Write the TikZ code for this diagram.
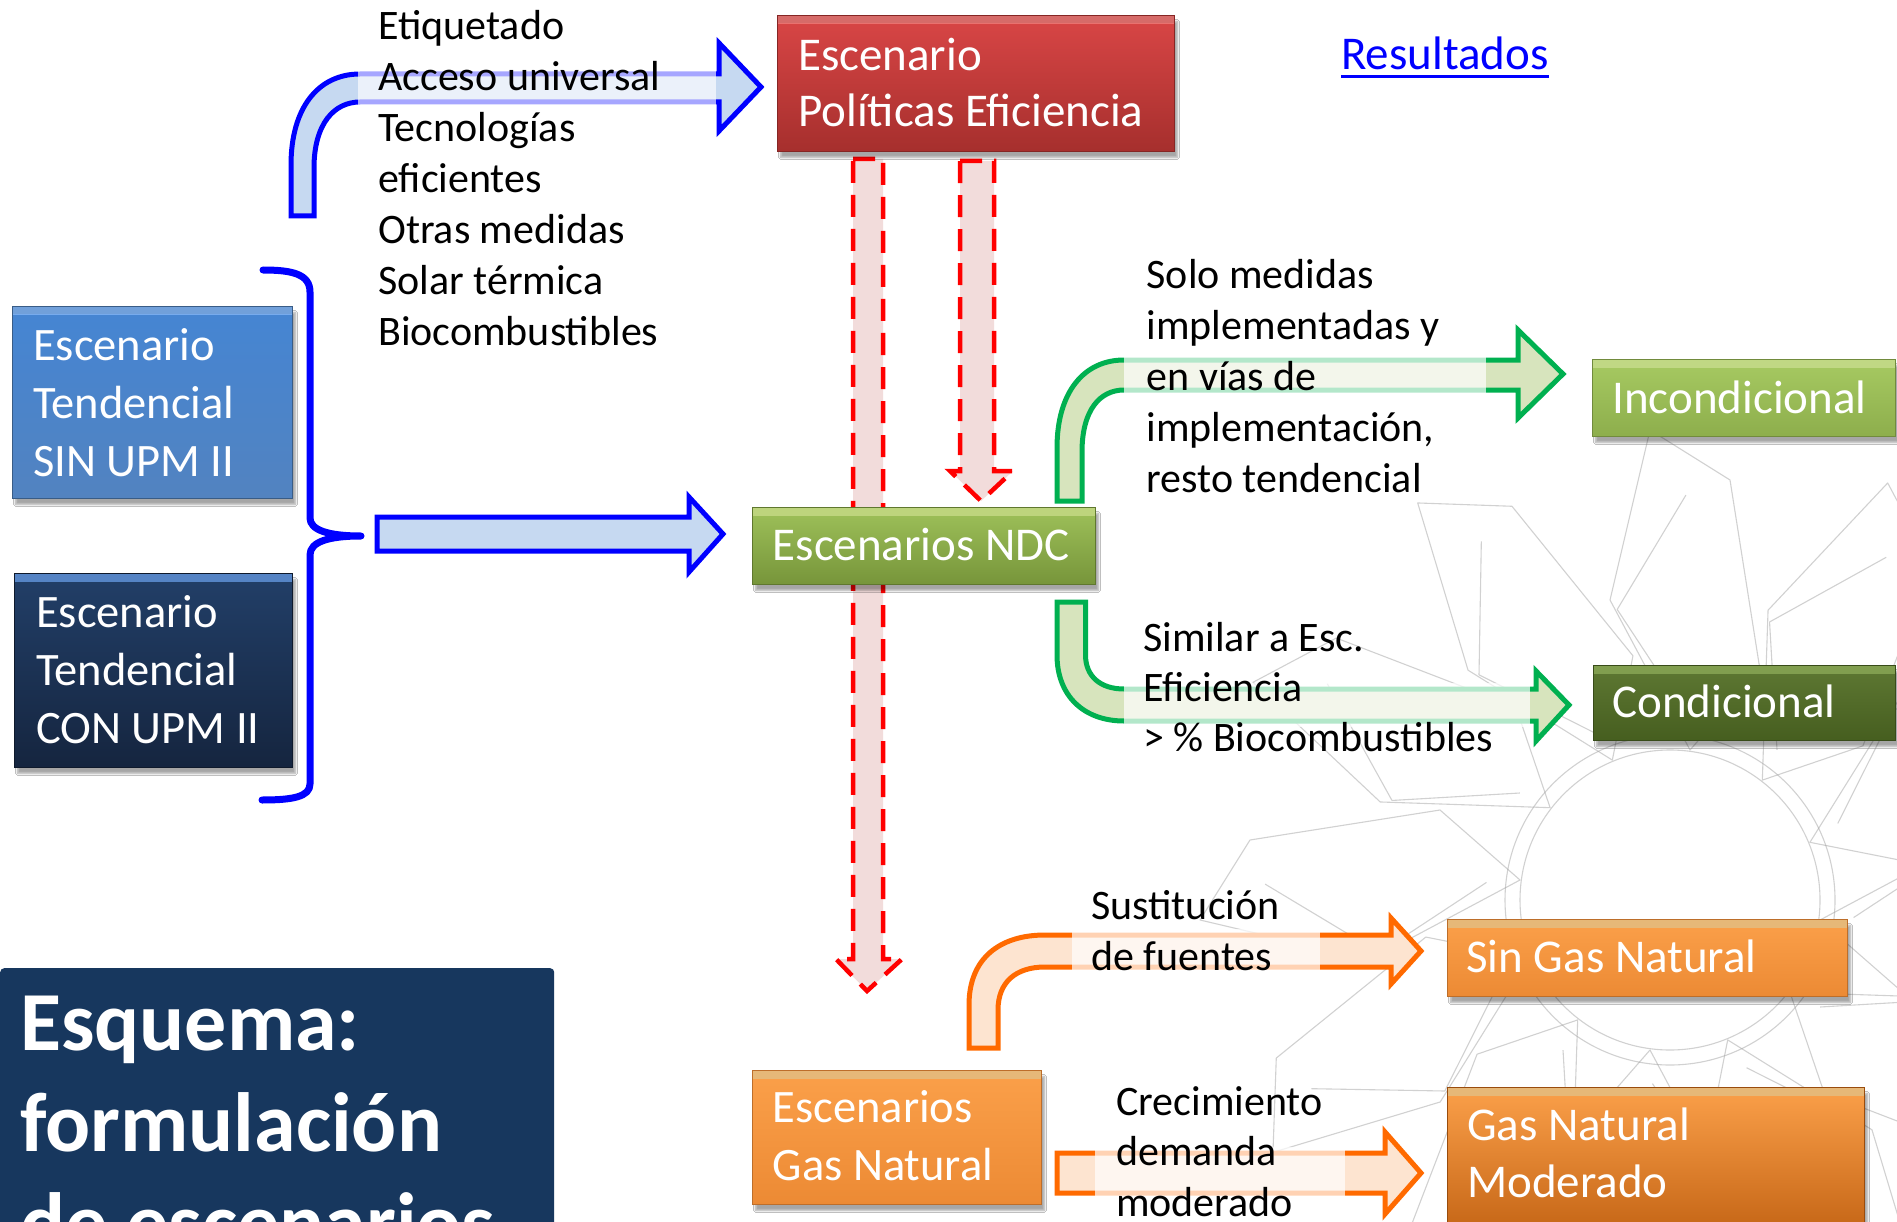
\documentclass[tikz,border=0pt]{standalone}
\usepackage{fontspec}
\setmainfont{Carlito}
\usetikzlibrary{shadows.blur}

\definecolor{RedTop}{HTML}{D94646}
\definecolor{RedBot}{HTML}{A62F2D}
\definecolor{RedHi}{HTML}{EC7674}
\definecolor{SinTop}{HTML}{4585D3}
\definecolor{SinBot}{HTML}{5283C0}
\definecolor{SinHi}{HTML}{7DB0F0}
\definecolor{ConTop}{HTML}{223F68}
\definecolor{ConBot}{HTML}{15253F}
\definecolor{ConHi}{HTML}{5E92DA}
\definecolor{NdcTop}{HTML}{9EC15A}
\definecolor{NdcBot}{HTML}{77953A}
\definecolor{NdcHi}{HTML}{D0EA8A}
\definecolor{IncTop}{HTML}{A7CA62}
\definecolor{IncBot}{HTML}{8DAE4C}
\definecolor{IncHi}{HTML}{D4EE92}
\definecolor{CndTop}{HTML}{5E7833}
\definecolor{CndBot}{HTML}{465E1F}
\definecolor{CndHi}{HTML}{8FAE58}
\definecolor{OrTop}{HTML}{FBA04A}
\definecolor{OrBot}{HTML}{EC8A34}
\definecolor{OrHi}{HTML}{FDCB85}
\definecolor{GnmBot}{HTML}{BF5F10}
\definecolor{TitleBlue}{HTML}{17375E}
\definecolor{BlueFill}{HTML}{C6D9F1}
\definecolor{GreenLine}{HTML}{00B050}
\definecolor{GreenFill}{HTML}{D7E4BD}
\definecolor{OrLine}{HTML}{FF6A00}
\definecolor{OrFill}{HTML}{FDE4D0}
\definecolor{PinkFill}{HTML}{F2DCDB}
\definecolor{LinkBlue}{HTML}{0000FF}
\definecolor{WaterGray}{HTML}{9A9A9A}

\newcommand{\Lrow}[1]{\hbox{#1}}

\begin{document}
\begin{tikzpicture}[x=1pt,y=-1pt,
  boxbase/.style={rectangle, inner sep=0pt, anchor=north west, line width=1pt,
    blur shadow={shadow xshift=3pt, shadow yshift=-6pt, shadow opacity=35, shadow blur steps=6}},
  hilite/.style={path picture={\fill[top color=#1, bottom color=#1, opacity=0.9]
    (path picture bounding box.north west) rectangle ([yshift=-8pt]path picture bounding box.north east);}},
  boxtxt/.style={anchor=base west, inner sep=0pt, text=white, font=\fontsize{47}{55.5}\selectfont},
  boxtxtb/.style={anchor=base west, inner sep=0pt, text=white, font=\fontsize{46.5}{58}\selectfont},
  note/.style={anchor=base west, inner sep=0pt, text=black, font=\fontsize{42}{51}\selectfont},
  bluearrow/.style={draw=LinkBlue, line width=5pt, fill=BlueFill, line join=miter},
  greenarrow/.style={draw=GreenLine, line width=5pt, fill=GreenFill, line join=miter},
  orarrow/.style={draw=OrLine, line width=5pt, fill=OrFill, line join=miter},
  dasharrow/.style={draw=red, line width=4.5pt, dash pattern=on 22pt off 12pt, fill=PinkFill},
  fade/.style={fill=white, opacity=#1},
  water/.style={draw=WaterGray, line width=1.1pt, opacity=0.45, line join=round}
]
\useasboundingbox (0,0) rectangle (1897,1222);
\fill[white] (0,0) rectangle (1897,1222);

% ---------- faint background line art ----------
\foreach \a in {0,30,...,330} {
  \draw[water, rotate around={\a:(1670,900)}]
    (1820,920) -- (1970,840) -- (2140,880) -- (2090,960) -- (1900,990) -- cycle;
  \draw[water, rotate around={\a+12:(1670,900)}]
    (1850,860) -- (1930,760) -- (2060,790);
}
\draw[water] (1670,900) circle[radius=165];
\draw[water] (1670,900) circle[radius=150];

% ---------- red dashed arrows ----------
\draw[dasharrow] (853,159) -- (883,159) -- (883,959) -- (902,959) -- (867,991) -- (836,959) -- (853,959) -- cycle;
\draw[dasharrow] (960,161) -- (994,161) -- (994,471) -- (1013,471) -- (981,501) -- (950,471) -- (960,471) -- cycle;

% ---------- boxes ----------
\node[boxbase, top color=RedTop, bottom color=RedBot, draw=RedBot!80!black, hilite=RedHi,
      minimum width=397pt, minimum height=136pt] (pol) at (777,15) {};
\node[boxbase, top color=SinTop, bottom color=SinBot, draw=SinBot!70!black, hilite=SinHi,
      minimum width=280pt, minimum height=192pt] (sin) at (12,306) {};
\node[boxbase, top color=ConTop, bottom color=ConBot, draw=ConBot!70!black, hilite=ConHi,
      minimum width=278pt, minimum height=194pt] (con) at (14,573) {};
\node[boxbase, top color=NdcTop, bottom color=NdcBot, draw=NdcBot!80!black, hilite=NdcHi,
      minimum width=343pt, minimum height=77pt] (ndc) at (752,507) {};
\node[boxbase, top color=IncTop, bottom color=IncBot, draw=IncBot!80!black, hilite=IncHi,
      minimum width=303pt, minimum height=77pt] (inc) at (1592,359) {};
\node[boxbase, top color=CndTop, bottom color=CndBot, draw=CndBot!80!black, hilite=CndHi,
      minimum width=302pt, minimum height=75pt] (cnd) at (1593,665) {};
\node[boxbase, top color=OrTop, bottom color=OrBot, draw=OrBot!80!black, hilite=OrHi,
      minimum width=400pt, minimum height=77pt] (sgn) at (1447,919) {};
\node[boxbase, top color=OrTop, bottom color=OrBot, draw=OrBot!80!black, hilite=OrHi,
      minimum width=289pt, minimum height=134pt] (egn) at (752,1070) {};
\node[boxbase, top color=OrTop, bottom color=GnmBot, draw=GnmBot!80!black, hilite=OrHi,
      minimum width=417pt, minimum height=160pt] (gnm) at (1447,1087) {};
\node[anchor=north west, inner sep=0pt, fill=TitleBlue, rounded corners=4pt,
      minimum width=554pt, minimum height=270pt] (ttlbox) at (0,968) {};

% ---------- brace ----------
\draw[LinkBlue, line width=7pt, line cap=round, line join=round]
  (263,270) .. controls (292,270) and (310,274) .. (310,292) -- (310,518)
  .. controls (310,530) and (328,536) .. (361,536)
  .. controls (328,536) and (310,542) .. (310,555) -- (310,784)
  .. controls (310,797) and (292,800) .. (262,800);

% ---------- blue arrows ----------
\draw[bluearrow] (291,216) -- (291,165) .. controls (291,108) and (318,74) .. (360,74)
  -- (719,74) -- (719,43) -- (761,87) -- (719,131) -- (719,102) -- (360,102)
  .. controls (334,102) and (314,124) .. (314,168) -- (314,216) -- cycle;
\fill[fade=0.65] (358,68) rectangle (716,108);
\draw[bluearrow] (377,517) -- (689,517) -- (689,497) -- (723,534) -- (689,572) -- (689,551) -- (377,551) -- cycle;

% ---------- green arrows ----------
\draw[greenarrow] (1057,501) -- (1057,448) .. controls (1057,392) and (1084,360) .. (1124,360)
  -- (1518,360) -- (1518,330) -- (1563,374) -- (1518,418) -- (1518,390) -- (1124,390)
  .. controls (1100,390) and (1082,410) .. (1082,452) -- (1082,501) -- cycle;
\fill[fade=0.7] (1124,354) rectangle (1486,396);
\draw[greenarrow] (1057,602) -- (1085.5,602) -- (1085.5,655) .. controls (1085.5,676) and (1100,689) .. (1124,689)
  -- (1536,689) -- (1536,671) -- (1569,705) -- (1536,741) -- (1536,721) -- (1124,721)
  .. controls (1084,721) and (1057,696) .. (1057,655) -- cycle;
\fill[fade=0.7] (1124,683) rectangle (1530,727);

% ---------- orange arrows ----------
\draw[orarrow] (969,1048) -- (969,1005) .. controls (969,958) and (1000,935) .. (1045,935)
  -- (1391,935) -- (1391,918) -- (1421,951) -- (1391,984) -- (1391,967) -- (1045,967)
  .. controls (1016,967) and (998,982) .. (998,1010) -- (998,1048) -- cycle;
\fill[fade=0.7] (1072,929) rectangle (1320,973);
\draw[orarrow] (1057,1153) -- (1385,1153) -- (1385,1132) -- (1421,1173) -- (1385,1214) -- (1385,1193) -- (1057,1193) -- cycle;
\fill[fade=0.7] (1095,1147) rectangle (1345,1199);

% ---------- texts ----------
\node[note] (lst) at (378,40) {\vtop{\Lrow{Etiquetado}\Lrow{Acceso universal}\Lrow{Tecnologías}\Lrow{eficientes}\Lrow{Otras medidas}\Lrow{Solar térmica}\Lrow{Biocombustibles}}};
\node[boxtxt] (poltxt) at (798,71) {\vtop{\Lrow{Escenario}\Lrow{Políticas Eficiencia}}};
\node[anchor=base west, inner sep=0pt, text=LinkBlue, font=\fontsize{47}{56}\selectfont] (res) at (1341,70) {Resultados};
\draw[LinkBlue, line width=2.5pt] ([yshift=-6.5pt]res.base west) -- ([yshift=-6.5pt]res.base east);
\node[boxtxtb] (sintxt) at (33,360) {\vtop{\Lrow{Escenario}\Lrow{Tendencial}\Lrow{SIN UPM II}}};
\node[boxtxtb] (contxt) at (36,627.5) {\vtop{\Lrow{Escenario}\Lrow{Tendencial}\Lrow{CON UPM II}}};
\node[boxtxt] (ndctxt) at (772.5,560.5) {Escenarios NDC};
\node[note] (solo) at (1146.5,289) {\vtop{\Lrow{Solo medidas}\Lrow{implementadas y}\Lrow{en vías de}\Lrow{implementación,}\Lrow{resto tendencial}}};
\node[boxtxt] (inctxt) at (1612,413) {Incondicional};
\node[note, font=\fontsize{42}{50}\selectfont] (simi) at (1143,651.5) {\vtop{\Lrow{Similar a Esc.}\Lrow{Eficiencia}\Lrow{> \% Biocombustibles}}};
\node[boxtxt] (cndtxt) at (1612,717) {Condicional};
\node[note, font=\fontsize{42}{50.6}\selectfont] (sust) at (1091,919.5) {\vtop{\Lrow{Sustitución}\Lrow{de fuentes}}};
\node[boxtxt] (sgntxt) at (1466,972) {Sin Gas Natural};
\node[boxtxtb] (egntxt) at (772.5,1122) {\vtop{\Lrow{Escenarios}\Lrow{Gas Natural}}};
\node[note, font=\fontsize{42}{50.8}\selectfont] (crec) at (1116,1115) {\vtop{\Lrow{Crecimiento}\Lrow{demanda}\Lrow{moderado}}};
\node[boxtxt, font=\fontsize{47}{57.4}\selectfont] (gnmtxt) at (1467,1140.5) {\vtop{\Lrow{Gas Natural}\Lrow{Moderado}}};
\node[anchor=base west, inner sep=0pt, text=white, font=\fontsize{84}{100.7}\selectfont\bfseries] (ttl) at (20,1050.5) {\vtop{\Lrow{Esquema:}\Lrow{formulación}\Lrow{de escenarios}}};
\end{tikzpicture}
\end{document}
